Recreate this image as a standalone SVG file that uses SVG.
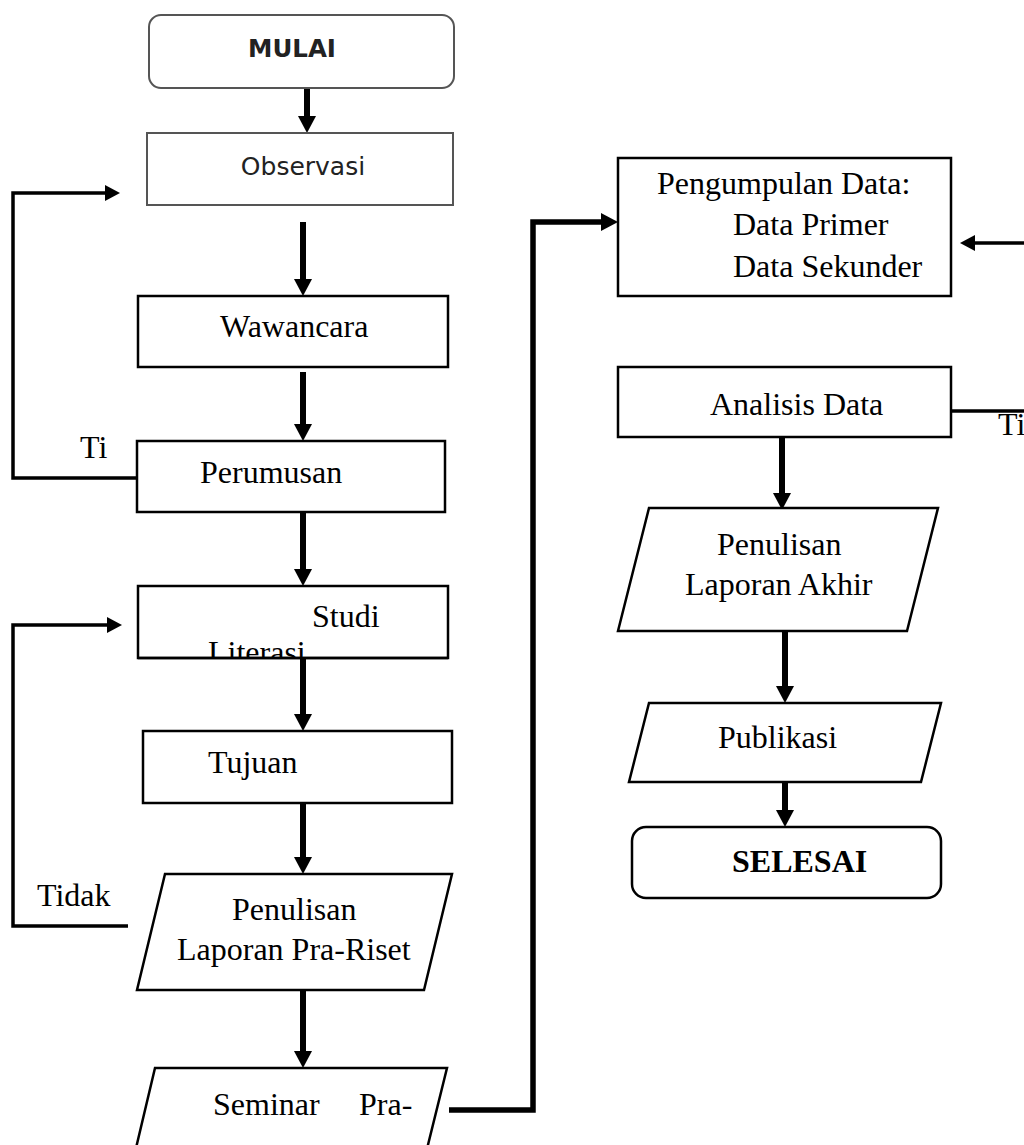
<svg xmlns="http://www.w3.org/2000/svg" width="1024" height="1145" viewBox="0 0 1024 1145">
<style>
.box{fill:#fff;stroke:#000;stroke-width:2.5}
.gbox{fill:#fff;stroke:#555;stroke-width:2}
.t{font-family:"Liberation Serif","Times New Roman",serif;font-size:32px;fill:#000}
.tb{font-family:"Liberation Serif","Times New Roman",serif;font-size:32px;font-weight:bold;fill:#000}
.s{font-family:"DejaVu Sans",Verdana,sans-serif;fill:#222}
.thick{fill:none;stroke:#000;stroke-width:6}
.thin{fill:none;stroke:#000;stroke-width:3.5}
.big{fill:none;stroke:#000;stroke-width:5.5}
</style>
<defs>
<marker id="ah" markerUnits="userSpaceOnUse" markerWidth="18" markerHeight="18" viewBox="0 0 18 18" refX="0" refY="9" orient="auto"><path d="M0,0 L17,9 L0,18 z" fill="#000"/></marker>
<marker id="ahs" markerUnits="userSpaceOnUse" markerWidth="16" markerHeight="16" viewBox="0 0 16 16" refX="0" refY="8" orient="auto"><path d="M0,0 L15,8 L0,16 z" fill="#000"/></marker>
<clipPath id="studiClip"><rect x="138" y="586" width="310" height="71"/></clipPath>
</defs>
<rect width="1024" height="1145" fill="#fff"/>

<g id="connectors">
<path class="thick" d="M307,88 V116" marker-end="url(#ah)"/>
<path class="thick" d="M303,222 V279" marker-end="url(#ah)"/>
<path class="thick" d="M303,372 V424" marker-end="url(#ah)"/>
<path class="thick" d="M303,512 V569" marker-end="url(#ah)"/>
<path class="thick" d="M303,658 V714" marker-end="url(#ah)"/>
<path class="thick" d="M303,798 V857" marker-end="url(#ah)"/>
<path class="thick" d="M303,990 V1051" marker-end="url(#ah)"/>
<path class="thin" d="M136,478 H13 V193 H105" marker-end="url(#ahs)"/>
<path class="thin" d="M128,926 H13 V625 H107" marker-end="url(#ahs)"/>
<path class="big" d="M449,1110 H533 V222 H601" marker-end="url(#ah)"/>
<path class="thin" d="M1024,243 H975" marker-end="url(#ahs)"/>
<path class="thin" d="M951,411 H1024"/>
<path class="thick" d="M782,437 V493" marker-end="url(#ah)"/>
<path class="thick" d="M785,631 V686" marker-end="url(#ah)"/>
<path class="thick" d="M785,782 V810" marker-end="url(#ah)"/>
</g>

<g id="mulai">
<rect class="gbox" x="149" y="15" width="305" height="73" rx="12"/>
<text class="s" x="292" y="57" font-size="24.5" font-weight="bold" text-anchor="middle" fill="#000">MULAI</text>
</g>
<g id="observasi">
<rect class="gbox" x="147" y="133" width="306" height="72"/>
<text class="s" x="303" y="175" font-size="25" text-anchor="middle">Observasi</text>
</g>
<g id="wawancara">
<rect class="box" x="138" y="296" width="310" height="71"/>
<text class="t" x="220" y="337">Wawancara</text>
</g>
<g id="perumusan">
<rect class="box" x="137" y="441" width="308" height="71"/>
<text class="t" x="200" y="483">Perumusan</text>
</g>
<g id="label-ti-1">
<text class="t" x="80" y="458">Ti</text>
</g>
<g id="studi">
<rect class="box" x="138" y="586" width="310" height="72"/>
<text class="t" x="312" y="627">Studi</text>
<text class="t" x="208" y="663" clip-path="url(#studiClip)">Literasi</text>
<path d="M138,658 H448" stroke="#000" stroke-width="2.5"/>
</g>
<g id="tujuan">
<rect class="box" x="143" y="731" width="309" height="72"/>
<text class="t" x="208" y="773">Tujuan</text>
</g>
<g id="label-tidak">
<text class="t" x="37" y="906">Tidak</text>
</g>
<g id="penulisan-praris">
<polygon class="box" points="165,874 452,874 424,990 137,990"/>
<text class="t" x="232" y="920">Penulisan</text>
<text class="t" x="177" y="960">Laporan Pra-Riset</text>
</g>
<g id="seminar">
<path class="box" d="M132,1165 L155,1068 H447 L423,1165"/>
<text class="t" x="213" y="1115">Seminar</text>
<text class="t" x="359" y="1115">Pra-</text>
</g>
<g id="pengumpulan">
<rect class="box" x="618" y="158" width="333" height="138"/>
<text class="t" x="657" y="194">Pengumpulan Data:</text>
<text class="t" x="733" y="235">Data Primer</text>
<text class="t" x="733" y="277">Data Sekunder</text>
</g>
<g id="analisis">
<rect class="box" x="618" y="367" width="333" height="70"/>
<text class="t" x="710" y="415">Analisis Data</text>
</g>
<g id="label-ti-2">
<text class="t" x="998" y="435">Ti</text>
</g>
<g id="penulisan-akhir">
<polygon class="box" points="649,508 938,508 907,631 618,631"/>
<text class="t" x="717" y="555">Penulisan</text>
<text class="t" x="685" y="595">Laporan Akhir</text>
</g>
<g id="publikasi">
<polygon class="box" points="649,703 941,703 921,782 629,782"/>
<text class="t" x="718" y="748">Publikasi</text>
</g>
<g id="selesai">
<rect class="box" x="632" y="827" width="309" height="71" rx="14"/>
<text class="tb" x="732" y="872">SELESAI</text>
</g>
</svg>
